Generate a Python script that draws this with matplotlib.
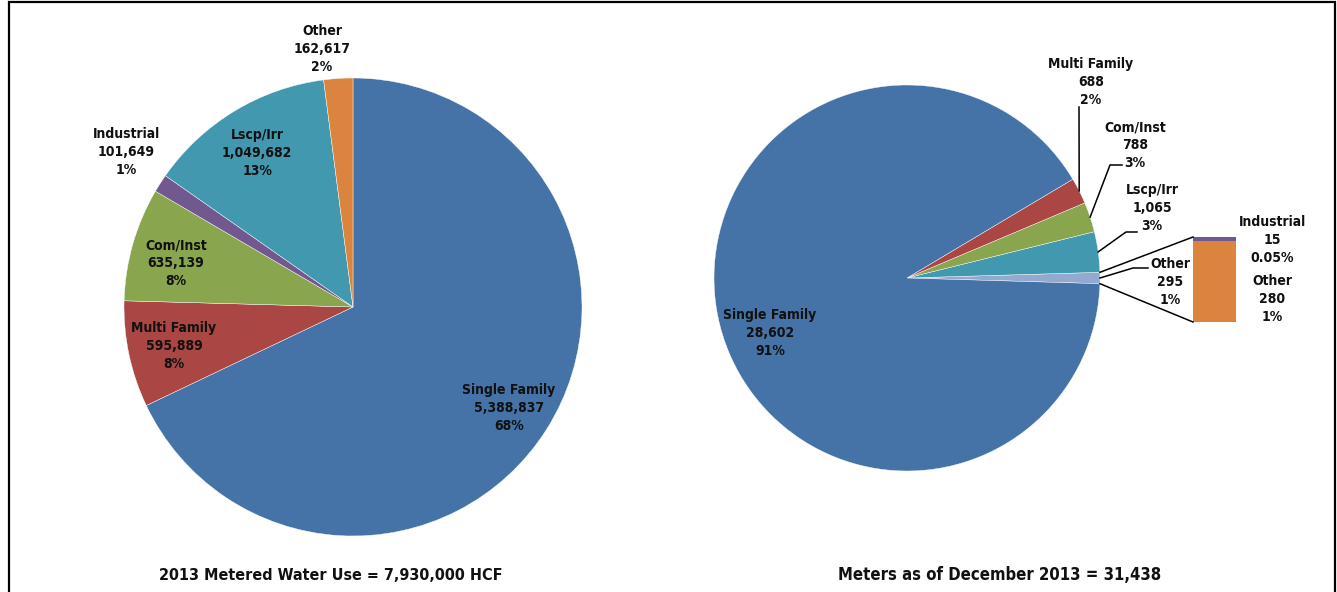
import numpy as np
import matplotlib.pyplot as plt
from matplotlib.patches import Rectangle

# left pie: metered water use (HCF)
use_cats = ['Single Family', 'Multi Family', 'Com/Inst', 'Industrial', 'Lscp/Irr', 'Other']
use_vals = [5388837, 595889, 635139, 101649, 1049682, 162617]
use_title = '2013 Metered Water Use = 7,930,000 HCF'

# right pie: meters, "Other" slice split out into a bar
meter_cats = ['Single Family', 'Multi Family', 'Com/Inst', 'Lscp/Irr', 'Other']
meter_vals = [28602, 688, 788, 1065, 295]
split_cats = ['Other', 'Industrial']
split_vals = [280, 15]
meter_title = 'Meters as of December 2013 = 31,438'

colors = {'Single Family': '#4572A7', 'Multi Family': '#AA4643', 'Com/Inst': '#89A54E',
          'Industrial': '#71588F', 'Lscp/Irr': '#4198AF', 'Other': '#DB843D'}
other_pie_color = '#93A9CF'

plt.rcParams['font.family'] = ['DejaVu Sans']
plt.rcParams['font.stretch'] = 'condensed'

W, H = 1337, 592
fig = plt.figure(figsize=(W / 100, H / 100), dpi=100)
ax = fig.add_axes([0, 0, 1, 1])


def up(y):
    # image row -> data y
    return H - y


def pct(v, tot):
    p = 100 * v / tot
    return '{:.2f}%'.format(p) if p < 0.5 else '{:.0f}%'.format(p)


def lab(c, v, tot):
    return '{}\n{:,}\n{}'.format(c, v, pct(v, tot))


fs = 10
tkw = dict(ha='center', va='center', fontsize=fs, fontweight='bold', linespacing=1.35, color='#111111')

# ---- left pie
c1 = (353, up(307))
r1 = 229
ax.pie(use_vals, colors=[colors[c] for c in use_cats], startangle=90, counterclock=False,
       center=c1, radius=r1, wedgeprops=dict(edgecolor='white', linewidth=0.3))
tot1 = sum(use_vals)
lpos = {'Single Family': (509, 408), 'Multi Family': (174, 346), 'Com/Inst': (176, 263),
        'Industrial': (126, 152), 'Lscp/Irr': (257, 153), 'Other': (322, 49)}
for c, v in zip(use_cats, use_vals):
    x, y = lpos[c]
    ax.text(x, up(y), lab(c, v, tot1), **tkw)

# ---- right pie (pie of bar)
c2 = (907, up(278))
r2 = 193
tot2 = sum(meter_vals)
order = ['Other', 'Lscp/Irr', 'Com/Inst', 'Multi Family', 'Single Family']
ovals = [meter_vals[meter_cats.index(c)] for c in order]
ocols = [other_pie_color if c == 'Other' else colors[c] for c in order]
other_deg = 360 * ovals[0] / tot2
wedges, _ = ax.pie(ovals, colors=ocols, startangle=-other_deg / 2, counterclock=True,
                   center=c2, radius=r2, wedgeprops=dict(edgecolor='white', linewidth=0.3))


def edge_pt(ang):
    a = np.radians(ang)
    return c2[0] + r2 * np.cos(a), c2[1] + r2 * np.sin(a)


mids = {c: (w.theta1 + w.theta2) / 2 for c, w in zip(order, wedges)}

# bar for split "Other"
bx0, bx1 = 1193, 1236
bar_bottom = up(322)
scale = 85 / sum(split_vals)
bottom = bar_bottom
for c, v in zip(split_cats, split_vals):
    ax.bar((bx0 + bx1) / 2, v * scale, width=bx1 - bx0, bottom=bottom, color=colors[c], linewidth=0)
    bottom += v * scale
bar_top = bottom

# connector lines
w0 = wedges[0]
p_top = edge_pt(w0.theta2)
p_bot = edge_pt(w0.theta1)
ax.plot([p_top[0], bx0], [p_top[1], bar_top], color='black', lw=1.1)
ax.plot([p_bot[0], bx0], [p_bot[1], bar_bottom], color='black', lw=1.1)

# right labels with leaders
rpos = {'Single Family': (770, 333), 'Multi Family': (1091, 82), 'Com/Inst': (1135, 145),
        'Lscp/Irr': (1152, 208), 'Other': (1170, 282)}
leads = {'Multi Family': [(1079, 107), (1079, 107)], 'Com/Inst': [(1122, 165), (1110, 165)],
         'Lscp/Irr': [(1137, 232), (1126, 232)], 'Other': [(1148, 268), (1133, 268)]}
for c, v in zip(meter_cats, meter_vals):
    x, y = rpos[c]
    ax.text(x, up(y), lab(c, v, tot2), **tkw)
    if c in leads:
        ex, ey = edge_pt(mids[c])
        pts = leads[c]
        ax.plot([pts[0][0], pts[1][0], ex], [up(pts[0][1]), up(pts[1][1]), ey], color='black', lw=1.1)

spos = {'Industrial': (1272, 240), 'Other': (1272, 299)}
for c, v in zip(split_cats, split_vals):
    x, y = spos[c]
    ax.text(x, up(y), lab(c, v, tot2), **tkw)

# titles
ax.text(331, up(575), use_title, ha='center', va='center', fontsize=11.5, fontweight='bold', color='#111111')
ax.text(1000, up(575), meter_title, ha='center', va='center', fontsize=12, fontweight='bold', color='#111111')

# outer frame
ax.add_patch(Rectangle((9, -20), 1326, up(2) + 20, fill=False, edgecolor='black', lw=1.6, clip_on=False))

ax.set_xlim(0, W)
ax.set_ylim(0, H)
ax.set_aspect('auto')
ax.axis('off')

fig.savefig('out.png', dpi=100)
